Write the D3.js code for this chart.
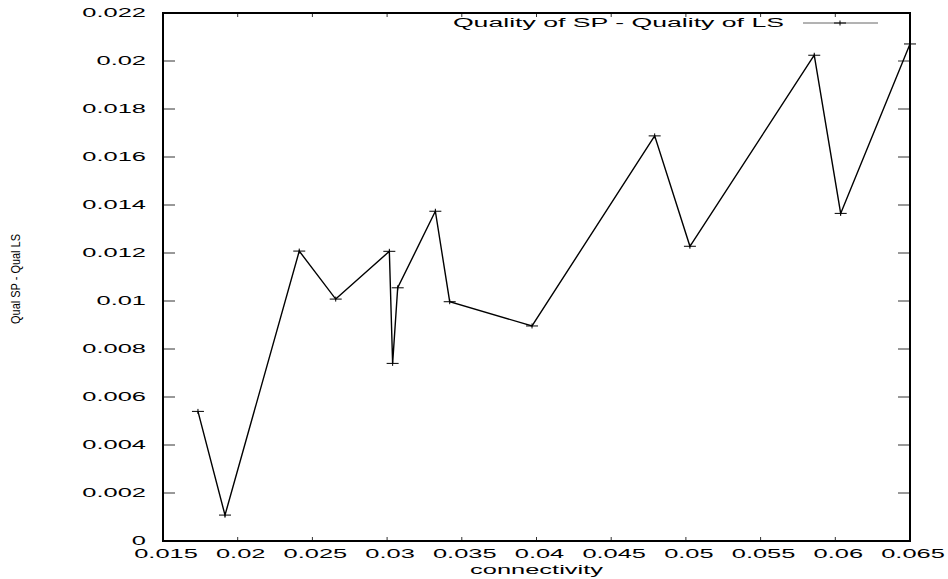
<!DOCTYPE html>
<html>
<head>
<meta charset="utf-8">
<script src="https://cdn.jsdelivr.net/npm/d3@7"></script>
<style>
  body { margin: 0; background: #fff; }
  svg { display: block; font-family: "Liberation Sans", Arial, sans-serif; }
</style>
</head>
<body>
<svg id="chart" width="948" height="579"></svg>
<script>
// connectivity vs. difference in quality
const connectivity = [0.01734, 0.01915, 0.02412, 0.02656, 0.03015, 0.03037, 0.03071,
  0.03323, 0.03419, 0.0397, 0.04791, 0.05027, 0.05859, 0.06036, 0.065];
const qualityDiff = [0.0054, 0.00108, 0.01208, 0.01008, 0.01207, 0.0074, 0.01055,
  0.01374, 0.00997, 0.00896, 0.01688, 0.01228, 0.02024, 0.01365, 0.02071];
const xTicks = [0.015, 0.02, 0.025, 0.03, 0.035, 0.04, 0.045, 0.05, 0.055, 0.06, 0.065];
const yTicks = [0, 0.002, 0.004, 0.006, 0.008, 0.01, 0.012, 0.014, 0.016, 0.018, 0.02, 0.022];
const seriesName = 'Quality of SP - Quality of LS';

const width = 948, height = 579;
const margin = {left: 163, right: 38, top: 13, bottom: 38};
// the original output is stretched sideways, so labels get a wide glyph
const stretch = 2.12;

const svg = d3.select('#chart');
const points = connectivity.map((c, i) => ({c, q: qualityDiff[i]}));

const x = d3.scaleLinear().domain([0.015, 0.065]).range([margin.left, width - margin.right]);
const y = d3.scaleLinear().domain([0, 0.022]).range([height - margin.bottom, margin.top]);

const fmt = d => d === 0 ? '0' : String(+d.toFixed(3));

// tick marks on all four sides, pointing inwards
const ticks = svg.append('g').attr('stroke', '#333').attr('stroke-width', 1);
xTicks.slice(1, -1).forEach(t => {
  ticks.append('line').attr('x1', x(t)).attr('x2', x(t))
    .attr('y1', y(0)).attr('y2', y(0) - 4);
  ticks.append('line').attr('x1', x(t)).attr('x2', x(t))
    .attr('y1', y(0.022)).attr('y2', y(0.022) + 4);
});
yTicks.slice(1, -1).forEach(t => {
  ticks.append('line').attr('x1', x(0.015)).attr('x2', x(0.015) + 12)
    .attr('y1', y(t)).attr('y2', y(t));
  ticks.append('line').attr('x1', x(0.065)).attr('x2', x(0.065) - 12)
    .attr('y1', y(t)).attr('y2', y(t));
});

function stretchedText(px, py, text, anchor, k = stretch) {
  svg.append('g')
    .attr('transform', `translate(${px},${py}) scale(${k},1)`)
    .append('text')
      .attr('text-anchor', anchor)
      .attr('font-size', 12)
      .attr('fill', '#000')
      .text(text);
}

yTicks.forEach(t => stretchedText(x(0.015) - 17, y(t) + 4.3, fmt(t), 'end'));
xTicks.forEach(t => stretchedText(x(t) + 3, y(0) + 16.5, fmt(t), 'middle'));

stretchedText((x(0.015) + x(0.065)) / 2, height - 5, 'connectivity', 'middle');

svg.append('text')
  .attr('transform', `translate(20,${(y(0) + y(0.022)) / 2 + 2}) rotate(-90)`)
  .attr('text-anchor', 'middle')
  .attr('font-size', 12)
  .attr('textLength', 90)
  .attr('lengthAdjust', 'spacingAndGlyphs')
  .text('Qual SP - Qual LS');

// data line
const line = d3.line().x(d => x(d.c)).y(d => y(d.q));
svg.append('path')
  .datum(points)
  .attr('fill', 'none')
  .attr('stroke', '#000')
  .attr('stroke-width', 1.4)
  .attr('d', line);

function cross(g, cx, cy) {
  g.append('path')
    .attr('d', `M${cx - 6},${cy}H${cx + 6}M${cx},${cy - 2.5}V${cy + 2.5}`)
    .attr('stroke', '#000')
    .attr('stroke-width', 1)
    .attr('fill', 'none');
}
const marks = svg.append('g');
points.forEach(d => cross(marks, x(d.c), y(d.q)));

// legend
stretchedText(784, 27, seriesName, 'end', 2.22);
svg.append('line')
  .attr('x1', 803).attr('x2', 878).attr('y1', 23).attr('y2', 23)
  .attr('stroke', '#666').attr('stroke-width', 1);
cross(svg, 840, 23);

// frame
svg.append('rect')
  .attr('x', x(0.015)).attr('y', y(0.022))
  .attr('width', x(0.065) - x(0.015)).attr('height', y(0) - y(0.022))
  .attr('fill', 'none')
  .attr('stroke', '#000')
  .attr('stroke-width', 2);
</script>
</body>
</html>
